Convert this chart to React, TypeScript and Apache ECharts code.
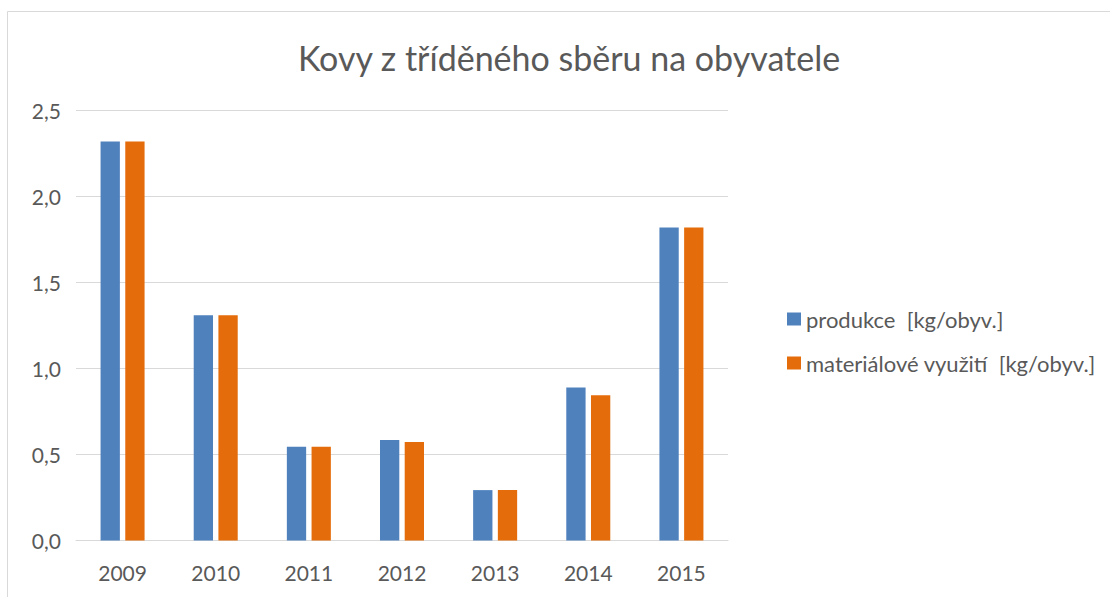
import React, { useEffect, useRef } from "react";
import * as echarts from "echarts";

const categories = ["2009", "2010", "2011", "2012", "2013", "2014", "2015"];
const produkce = [2.32, 1.31, 0.545, 0.584, 0.293, 0.89, 1.82];
const materialove = [2.32, 1.31, 0.545, 0.572, 0.293, 0.845, 1.82];
const seriesNames = ["produkce  [kg/obyv.]", "materiálové využití  [kg/obyv.]"];
const titleText = "Kovy z tříděného sběru na obyvatele";

export default function App() {
  const ref = useRef<HTMLDivElement>(null);
  useEffect(() => {
    if (!ref.current) return;
    const chart = echarts.init(ref.current, undefined, { renderer: "svg" });
    const font = "Lato, 'Open Sans', sans-serif";
    chart.setOption({
      animation: false,
      backgroundColor: "#ffffff",
      textStyle: { fontFamily: font },
      title: {
        text: titleText,
        left: 564,
        textAlign: "center",
        top: 35,
        textStyle: { fontFamily: font, fontSize: 34, fontWeight: "normal", color: "#595959" },
      },
      graphic: [
        {
          type: "rect",
          shape: { x: 7.5, y: 11.5, width: 1120, height: 620 },
          style: { fill: "none", stroke: "#d9d9d9", lineWidth: 1 },
          silent: true,
        },
      ],
      legend: {
        orient: "vertical",
        left: 782,
        top: 303,
        itemWidth: 14,
        itemHeight: 13,
        itemGap: 22,
        icon: "rect",
        textStyle: { fontFamily: font, fontSize: 22, color: "#595959", padding: [0, 0, 0, 0] },
        data: seriesNames,
      },
      grid: { left: 76, right: 382, top: 110.5, bottom: 56.5, containLabel: false },
      xAxis: {
        type: "category",
        data: categories,
        axisLine: { lineStyle: { color: "#d9d9d9", width: 1 } },
        axisTick: { show: false },
        axisLabel: { fontFamily: font, fontSize: 21, color: "#595959", margin: 21 },
      },
      yAxis: {
        type: "value",
        min: 0,
        max: 2.5,
        interval: 0.5,
        axisLine: { show: false },
        axisTick: { show: false },
        splitLine: { lineStyle: { color: "#d9d9d9", width: 1 } },
        axisLabel: {
          fontFamily: font,
          fontSize: 21,
          color: "#595959",
          margin: 15,
          formatter: (v: number) => v.toFixed(1).replace(".", ","),
        },
      },
      series: [
        {
          name: seriesNames[0],
          type: "bar",
          data: produkce,
          barWidth: 19.3,
          barGap: "28%",
          itemStyle: { color: "#4f81bd" },
        },
        {
          name: seriesNames[1],
          type: "bar",
          data: materialove,
          barWidth: 19.3,
          itemStyle: { color: "#e46c0a" },
        },
      ],
    });
    return () => chart.dispose();
  }, []);
  return (
    <div
      ref={ref}
      style={{ position: "fixed", left: 0, top: 0, width: 1110, height: 597 }}
    />
  );
}
